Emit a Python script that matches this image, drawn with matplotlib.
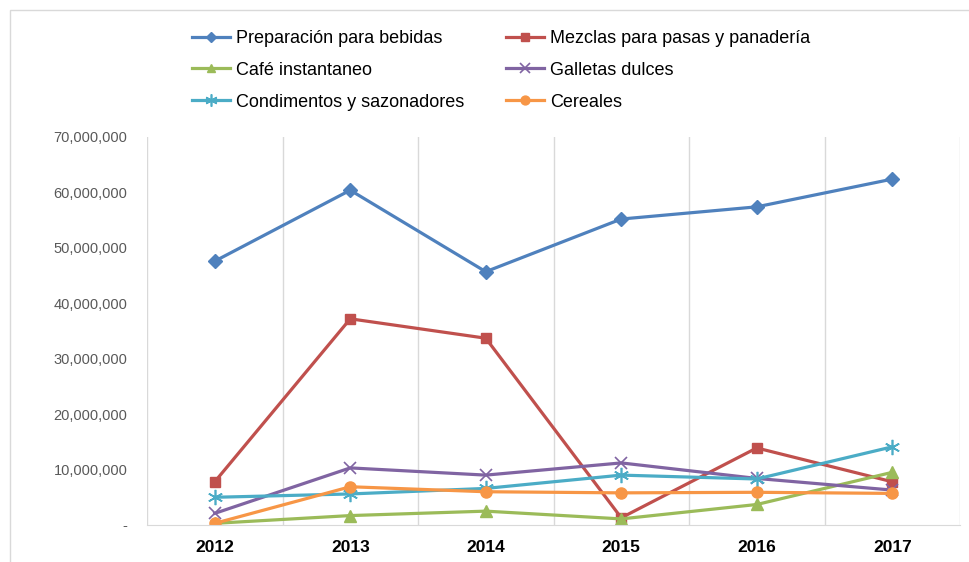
import matplotlib
matplotlib.use("Agg")
import matplotlib.pyplot as plt
from matplotlib.patches import Rectangle
from matplotlib.ticker import FuncFormatter, FixedLocator

plt.rcParams['font.family'] = ['Liberation Sans', 'DejaVu Sans']

years = ["2012", "2013", "2014", "2015", "2016", "2017"]
preparacion = [47.6e6, 60.4e6, 45.7e6, 55.2e6, 57.4e6, 62.4e6]
mezclas = [7.8e6, 37.2e6, 33.7e6, 1.3e6, 13.9e6, 7.8e6]
cafe = [0.3e6, 1.7e6, 2.5e6, 1.1e6, 3.7e6, 9.5e6]
galletas = [2.1e6, 10.3e6, 9.0e6, 11.2e6, 8.4e6, 6.3e6]
condimentos = [5.0e6, 5.6e6, 6.6e6, 9.0e6, 8.3e6, 14.1e6]
cereales = [0.3e6, 6.9e6, 6.0e6, 5.8e6, 5.9e6, 5.7e6]

labels = ["Preparación para bebidas", "Mezclas para pasas y panadería",
          "Café instantaneo", "Galletas dulces",
          "Condimentos y sazonadores", "Cereales"]

W, H = 969, 562
fig = plt.figure(figsize=(W/100, H/100), dpi=100)
ax = fig.add_axes([147/W, 1-525/H, (960-147)/W, (525-137)/H])

# chart border
fig.patches.append(Rectangle((10/W, -0.1), 1.0, 1-10/H+0.1, transform=fig.transFigure,
                             fill=False, edgecolor='#d9d9d9', lw=1.0))

x = list(range(len(years)))
series = [
    (preparacion, '#4F81BD', 'D', 7, 0),
    (mezclas, '#C0504D', 's', 7, 0),
    (cafe, '#9BBB59', '^', 8, 0),
    (galletas, '#8064A2', 'x', 9, 1.2),
    (condimentos, '#4BACC6', (6, 2, 0), 11, 1.2),
    (cereales, '#F79646', 'o', 8, 0),
]
handles = []
for (vals, c, m, ms, mew), lab in zip(series, labels):
    kw = dict(markeredgewidth=mew) if mew else dict(markeredgecolor=c)
    h, = ax.plot(x, vals, color=c, lw=2.3, marker=m, markersize=ms,
                 markerfacecolor=c, label=lab, **kw)
    handles.append(h)

ax.set_xlim(-0.5, len(years) - 0.5)
ax.set_ylim(0, 70e6)
ax.set_xticks(x)
ax.set_xticklabels(years, fontweight='bold', fontsize=12.5, color='#000000')
ax.xaxis.set_minor_locator(FixedLocator([i - 0.5 for i in range(len(years) + 1)]))
ax.grid(True, which='minor', axis='x', color='#d9d9d9', lw=1)
ax.tick_params(axis='x', which='both', length=0, pad=11)
ax.set_yticks([i * 10e6 for i in range(8)])
ax.yaxis.set_major_formatter(FuncFormatter(lambda v, p: '-' if v == 0 else f"{int(v):,}"))
ax.tick_params(axis='y', length=0, labelsize=10.5, labelcolor='#595959', pad=14)
for s in ['top', 'right', 'left']:
    ax.spines[s].set_visible(False)
ax.spines['bottom'].set_color('#d9d9d9')

order = [0, 2, 4, 1, 3, 5]
fig.legend([handles[i] for i in order], [labels[i] for i in order],
           loc='upper left', bbox_to_anchor=(192/W, 1-30/H), ncol=2,
           frameon=False, fontsize=13, handlelength=2.1, handletextpad=0.35,
           columnspacing=2.3, labelspacing=0.82, borderaxespad=0, borderpad=0,
           markerscale=0.8)

fig.savefig("out.png", dpi=100)
